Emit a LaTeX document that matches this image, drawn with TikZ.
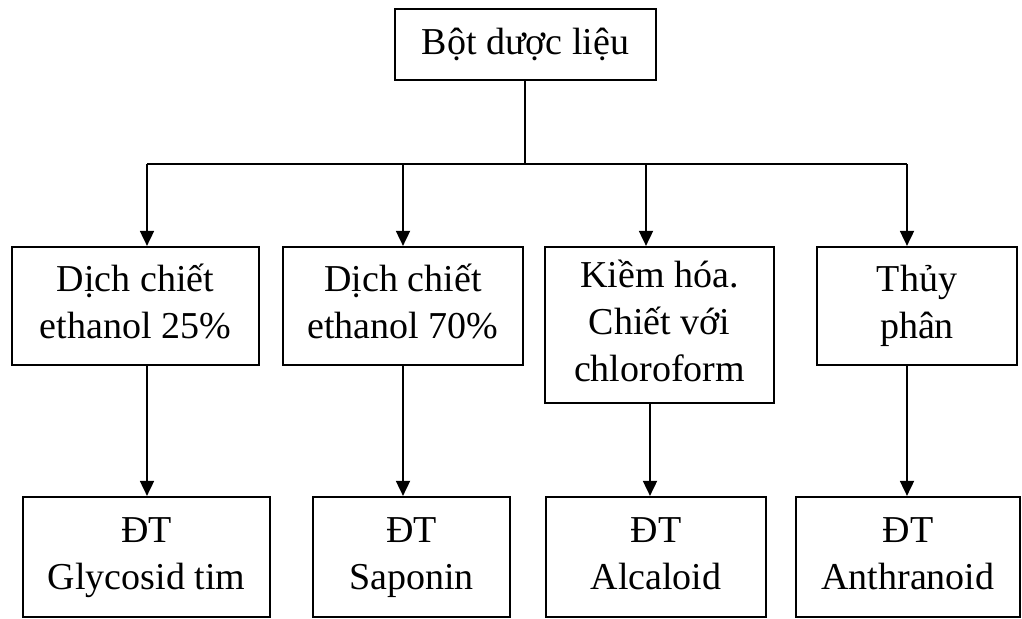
\documentclass[tikz,border=0pt]{standalone}
\usepackage{fontspec}
\setmainfont{Liberation Serif}
\usetikzlibrary{arrows.meta}

\tikzset{
  box/.style={draw, line width=1.1pt, rectangle, align=center, inner sep=0pt,
    font=\fontsize{19}{23.5}\selectfont},
  arr/.style={line width=0.9pt, -{Triangle[width=7pt,length=7.5pt]}}
}

\begin{document}
\begin{tikzpicture}[x=0.5pt, y=-0.5pt]
        \useasboundingbox (0,0) rectangle (1022,619);

        \node (top) [box, minimum width=130.5pt, minimum height=35.5pt] at (525.5, 44.5) {Bột dược liệu};

        \node (b1) [box, minimum width=123.5pt, minimum height=59pt] at (135.5, 306) {\strut Dịch chiết\\\strut ethanol 25\%};
        \node (b2) [box, minimum width=120pt, minimum height=59pt] at (403, 306) {\strut Dịch chiết\\\strut ethanol 70\%};
        \node (b3) [box, minimum width=114.5pt, minimum height=78pt] at (659.5, 325) {\strut Kiềm hóa.\\\strut Chiết với\\\strut chloroform};
        \node (b4) [box, minimum width=100pt, minimum height=59pt] at (917, 306) {\strut Thủy\\\strut phân};

        \node (c1) [box, minimum width=123.5pt, minimum height=60pt] at (146.5, 557) {\strut ĐT\\\strut Glycosid tim};
        \node (c2) [box, minimum width=98.5pt, minimum height=60pt] at (411.5, 557) {\strut ĐT\\\strut Saponin};
        \node (c3) [box, minimum width=110pt, minimum height=60pt] at (656, 557) {\strut ĐT\\\strut Alcaloid};
        \node (c4) [box, minimum width=112pt, minimum height=60pt] at (908, 557) {\strut ĐT\\\strut Anthranoid};

        \coordinate (hub) at (525, 164);
        \coordinate (bus1) at (147, 164);
        \coordinate (bus2) at (403, 164);
        \coordinate (bus3) at (646, 164);
        \coordinate (bus4) at (907, 164);
        \coordinate (drop3) at (650, 404);

        \draw [line width=0.9pt] (top.south -| hub) -- (hub);
        \draw [line width=0.9pt] (bus1) -- (bus4);
        \draw [arr] (bus1) -- (bus1 |- b1.north);
        \draw [arr] (bus2) -- (bus2 |- b2.north);
        \draw [arr] (bus3) -- (bus3 |- b3.north);
        \draw [arr] (bus4) -- (bus4 |- b4.north);

        \draw [arr] (b1.south -| bus1) -- (bus1 |- c1.north);
        \draw [arr] (b2.south -| bus2) -- (bus2 |- c2.north);
        \draw [arr] (b3.south -| drop3) -- (drop3 |- c3.north);
        \draw [arr] (b4.south -| bus4) -- (bus4 |- c4.north);
\end{tikzpicture}
\end{document}
